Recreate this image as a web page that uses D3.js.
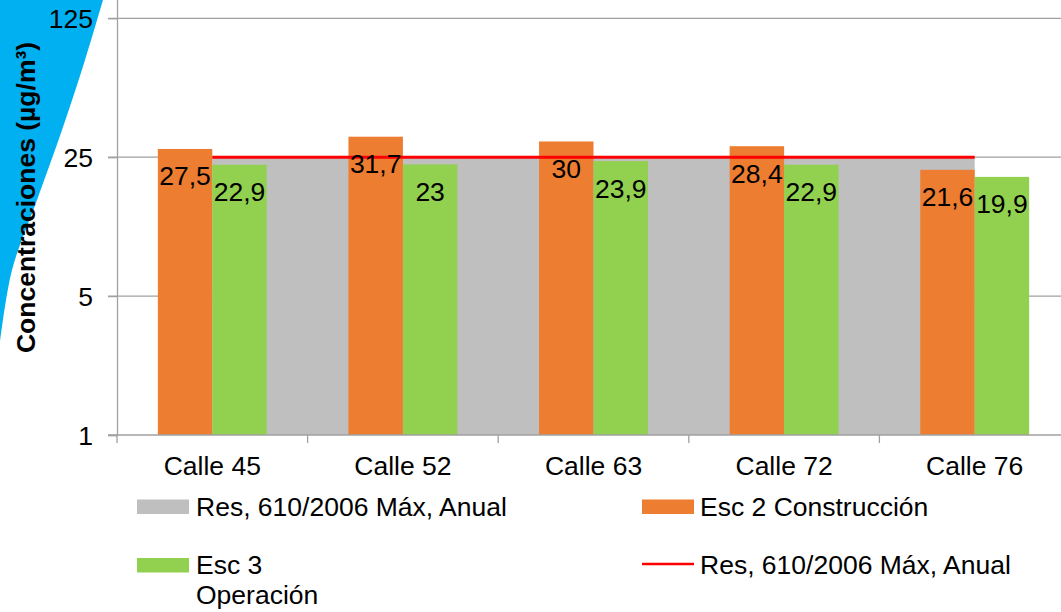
<!DOCTYPE html>
<html>
<head>
<meta charset="utf-8">
<script src="https://cdn.jsdelivr.net/npm/d3@7/dist/d3.min.js"></script>
<style>
  html, body { margin: 0; padding: 0; background: #fff; }
  svg { display: block; }
  svg text { font-family: "Liberation Sans", Arial, sans-serif; }
</style>
</head>
<body>
<svg id="chart" width="1061" height="612"></svg>
<script>
// Calles monitoreadas
const categories = ["Calle 45", "Calle 52", "Calle 63", "Calle 72", "Calle 76"];
// Concentraciones por escenario (µg/m³)
const construccion = [27.5, 31.7, 30, 28.4, 21.6];
const operacion = [22.9, 23, 23.9, 22.9, 19.9];
// Límite anual Res. 610/2006 (área y línea)
const normaArea = [25, 25, 25, 25, 25];
const normaLinea = [25, 25, 25, 25, 25];
// Marcas del eje logarítmico (base 5)
const yTicks = [1, 5, 25, 125];
const yMax = 625;

const seriesNames = ["Esc 2 Construcción", "Esc 3 Operación"];
const colors = { area: "#bfbfbf", constr: "#ed7d31", oper: "#92d050", line: "#ff0000", grid: "#a0a0a0", deco: "#00b0f0" };
const FONT = 26.5;

const svg = d3.select("#chart");

// Plot area
const left = 117, bottom = 435, decade = 138.9;
const x0 = d3.scaleBand().domain(categories).range([left, left + 5 * 190.6]).padding(0);
const x1 = d3.scaleBand().domain(seriesNames).range([0, x0.bandwidth()]).paddingInner(0).paddingOuter(0.75);
const y = d3.scaleLog().base(5).domain([1, yMax]).range([bottom, bottom - 4 * decade]);

// Decorative blue wedge at top-left (smooth slanted edge)
const wedgeEdge = [[103, 0], [85, 60], [62, 130], [37, 200], [12, 270], [0, 342]];
const edgePath = d3.line().curve(d3.curveCatmullRom)(wedgeEdge);
svg.append("path")
  .attr("d", "M0,0 " + edgePath.replace(/^M/, "L") + " Z")
  .attr("fill", colors.deco);

// Gridlines
svg.append("g").selectAll("line").data(yTicks.slice(1)).join("line")
  .attr("x1", left - 9).attr("x2", 1061)
  .attr("y1", d => y(d)).attr("y2", d => y(d))
  .attr("stroke", colors.grid).attr("stroke-width", 1.3);

// Area series (norma) spanning category centers
const cx = c => x0(c) + x0.bandwidth() / 2;
const area = d3.area()
  .x((d, i) => cx(categories[i]))
  .y0(y(1))
  .y1(d => y(d));
svg.append("path").datum(normaArea).attr("d", area).attr("fill", colors.area);

// Clustered bars
const barData = categories.map((c, i) => [
  { c, s: seriesNames[0], v: construccion[i], fill: colors.constr },
  { c, s: seriesNames[1], v: operacion[i], fill: colors.oper }
]).flat();

svg.append("g").selectAll("rect").data(barData).join("rect")
  .attr("x", d => x0(d.c) + x1(d.s))
  .attr("width", x1.bandwidth())
  .attr("y", d => y(d.v))
  .attr("height", d => y(1) - y(d.v))
  .attr("fill", d => d.fill);

// Norma line
const line = d3.line()
  .x((d, i) => cx(categories[i]))
  .y(d => y(d));
svg.append("path").datum(normaLinea).attr("d", line)
  .attr("fill", "none").attr("stroke", colors.line).attr("stroke-width", 3);

// Axes
const yAxis = d3.axisLeft(y).tickValues(yTicks).tickFormat(d3.format("d")).tickSize(9).tickPadding(15);
const gy = svg.append("g").attr("transform", `translate(${left},0)`).call(yAxis)
  .attr("font-family", null).attr("font-size", FONT);
gy.select(".domain").attr("stroke", colors.grid).attr("stroke-width", 1.3);
gy.selectAll(".tick line").attr("stroke", colors.grid).attr("stroke-width", 1.3);
gy.selectAll(".tick text").attr("fill", "#000").attr("dy", "0.34em");

const xAxis = d3.axisBottom(x0).tickSize(0).tickPadding(0);
const gx = svg.append("g").attr("transform", `translate(0,${bottom})`).call(xAxis)
  .attr("font-family", null).attr("font-size", FONT);
gx.select(".domain").remove();
gx.append("line").attr("x1", left - 9).attr("x2", 1061).attr("stroke", colors.grid).attr("stroke-width", 1.3);
gx.selectAll(".tick text").attr("fill", "#000").attr("dy", null).attr("y", 40);
// Category separators
gx.selectAll("line.sep").data(categories).join("line").attr("class", "sep")
  .attr("x1", d => x0(d)).attr("x2", d => x0(d)).attr("y1", 0).attr("y2", 8)
  .attr("stroke", colors.grid).attr("stroke-width", 1.3);

// Data labels (inside end)
const fmt = v => String(v).replace(".", ",");
svg.append("g").selectAll("text").data(barData).join("text")
  .attr("x", d => x0(d.c) + x1(d.s) + x1.bandwidth() / 2)
  .attr("y", d => y(d.v) + 36.5)
  .attr("text-anchor", "middle")
  .attr("font-size", FONT)
  .attr("fill", "#000")
  .text(d => fmt(d.v));

// Y axis title
svg.append("text")
  .attr("transform", "translate(35,197.5) rotate(-90)")
  .attr("text-anchor", "middle")
  .attr("font-size", FONT)
  .attr("font-weight", "bold")
  .attr("fill", "#000")
  .text("Concentraciones (µg/m³)");

// Legend
const lg = svg.append("g").attr("font-size", FONT).attr("fill", "#000");
lg.append("rect").attr("x", 137).attr("y", 499.5).attr("width", 52).attr("height", 14.5).attr("fill", colors.area);
lg.append("text").attr("x", 196).attr("y", 516).text("Res, 610/2006 Máx, Anual");
lg.append("rect").attr("x", 642).attr("y", 499.5).attr("width", 52).attr("height", 14.5).attr("fill", colors.constr);
lg.append("text").attr("x", 700).attr("y", 516).text(seriesNames[0]);
lg.append("rect").attr("x", 137).attr("y", 558).attr("width", 52).attr("height", 14.5).attr("fill", colors.oper);
const t3 = lg.append("text").attr("x", 196).attr("y", 574);
t3.append("tspan").attr("x", 196).text("Esc 3");
t3.append("tspan").attr("x", 196).attr("y", 603.5).text("Operación");
lg.append("line").attr("x1", 642).attr("x2", 694).attr("y1", 564).attr("y2", 564)
  .attr("stroke", colors.line).attr("stroke-width", 2.5);
lg.append("text").attr("x", 700).attr("y", 574).text("Res, 610/2006 Máx, Anual");
</script>
</body>
</html>
